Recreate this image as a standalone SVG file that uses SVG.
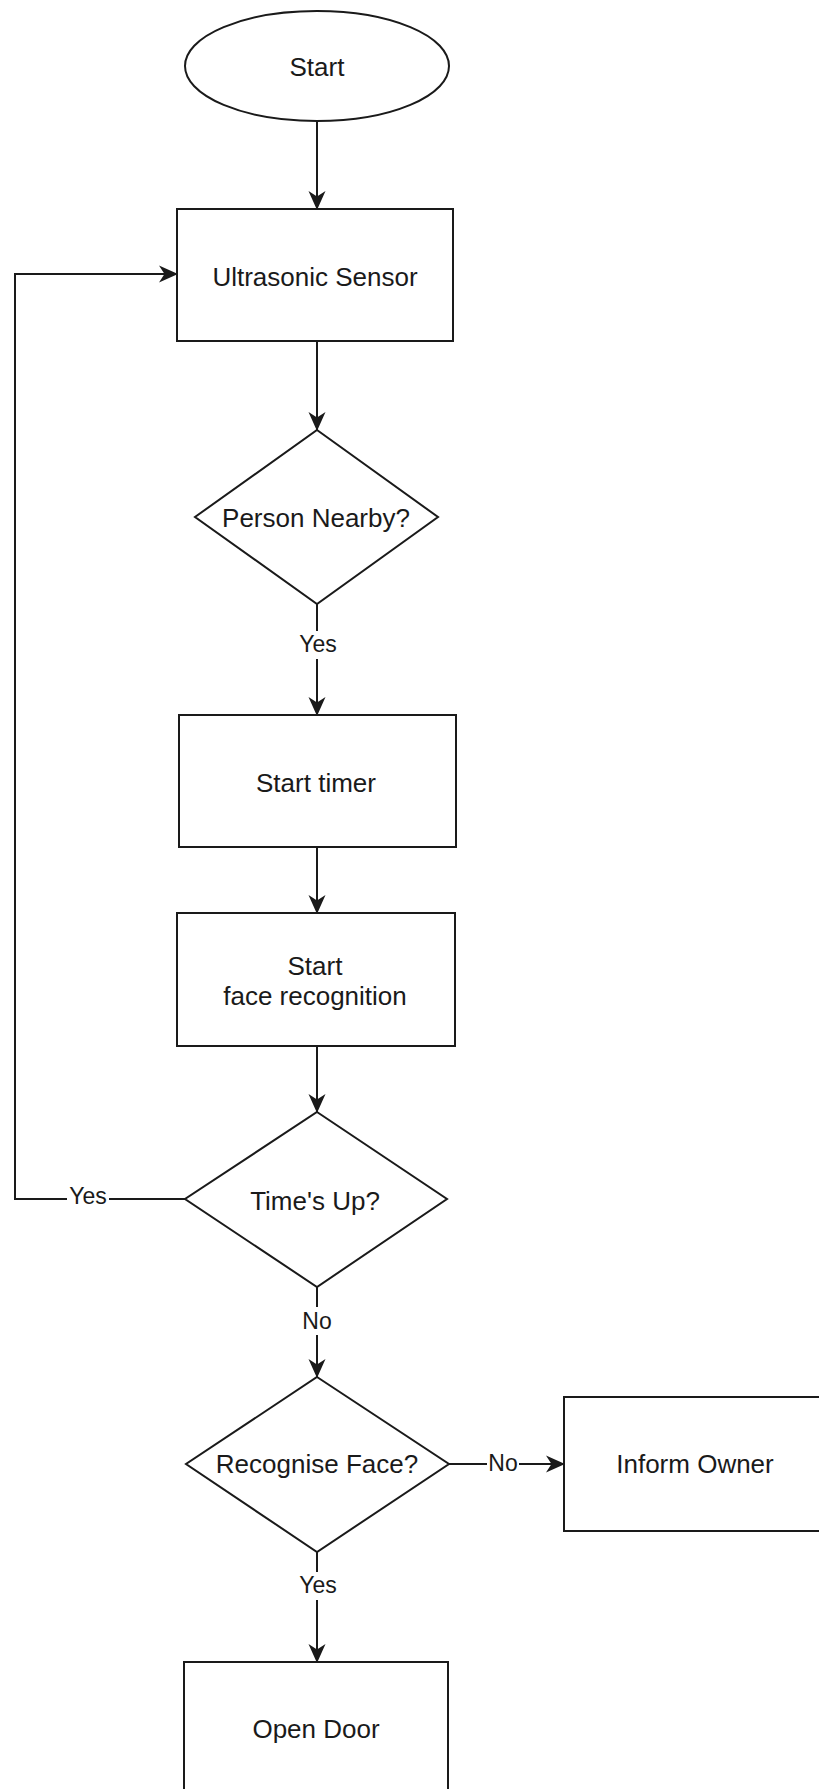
<svg xmlns="http://www.w3.org/2000/svg" width="819" height="1789" viewBox="0 0 819 1789">
<style>
.shape{fill:#ffffff;stroke:#1a1a1a;stroke-width:2}
.edge{fill:none;stroke:#1a1a1a;stroke-width:2}
.t{font-family:"Liberation Sans",Arial,sans-serif;font-size:26px;fill:#1a1a1a;text-anchor:middle}
.lbl{font-family:"Liberation Sans",Arial,sans-serif;font-size:23px;fill:#1a1a1a;text-anchor:middle}
.lbg{fill:#ffffff;stroke:none}
</style>
<defs>
<marker id="arr" viewBox="0 0 19 19" refX="18" refY="9.5" markerWidth="19" markerHeight="19" markerUnits="userSpaceOnUse" orient="auto">
<path d="M0,1 L19,9.5 L0,18 L5.5,9.5 Z" fill="#1a1a1a"/>
</marker>
</defs>
<rect width="819" height="1789" fill="#ffffff"/>
<g id="connectors">
<path class="edge" d="M317,121 L317,209" marker-end="url(#arr)"/>
<path class="edge" d="M317,341 L317,430" marker-end="url(#arr)"/>
<path class="edge" d="M317,604 L317,715" marker-end="url(#arr)"/>
<path class="edge" d="M317,847 L317,913" marker-end="url(#arr)"/>
<path class="edge" d="M317,1046 L317,1112" marker-end="url(#arr)"/>
<path class="edge" d="M185,1199 L15,1199 L15,274 L177,274" marker-end="url(#arr)"/>
<path class="edge" d="M317,1287 L317,1377" marker-end="url(#arr)"/>
<path class="edge" d="M449,1464 L564,1464" marker-end="url(#arr)"/>
<path class="edge" d="M317,1552 L317,1662" marker-end="url(#arr)"/>
<g id="edge-labels">
<rect class="lbg" x="296" y="631" width="42" height="28"/>
<text class="lbl" x="318" y="652">Yes</text>
<rect class="lbg" x="67" y="1186" width="42" height="26"/>
<text class="lbl" x="88" y="1204">Yes</text>
<rect class="lbg" x="301" y="1307" width="32" height="28"/>
<text class="lbl" x="317" y="1329">No</text>
<rect class="lbg" x="487" y="1451" width="32" height="26"/>
<text class="lbl" x="503" y="1471">No</text>
<rect class="lbg" x="296" y="1572" width="42" height="28"/>
<text class="lbl" x="318" y="1593">Yes</text>
</g>
</g>
<g id="start">
<ellipse class="shape" cx="317" cy="66" rx="132" ry="55"/>
<text class="t" x="317" y="76">Start</text>
</g>
<g id="ultrasonic-sensor">
<rect class="shape" x="177" y="209" width="276" height="132"/>
<text class="t" x="315" y="286">Ultrasonic Sensor</text>
</g>
<g id="person-nearby">
<polygon class="shape" points="317,430 438,517 317,604 195,517"/>
<text class="t" x="316" y="527">Person Nearby?</text>
</g>
<g id="start-timer">
<rect class="shape" x="179" y="715" width="277" height="132"/>
<text class="t" x="316" y="792">Start timer</text>
</g>
<g id="start-face-recognition">
<rect class="shape" x="177" y="913" width="278" height="133"/>
<text class="t" x="315" y="975">Start</text>
<text class="t" x="315" y="1005">face recognition</text>
</g>
<g id="times-up">
<polygon class="shape" points="317,1112 447,1199 317,1287 185,1199"/>
<text class="t" x="315" y="1210">Time's Up?</text>
</g>
<g id="recognise-face">
<polygon class="shape" points="317,1377 449,1464 317,1552 186,1464"/>
<text class="t" x="317" y="1473">Recognise Face?</text>
</g>
<g id="inform-owner">
<rect class="shape" x="564" y="1397" width="276" height="134"/>
<text class="t" x="695" y="1473">Inform Owner</text>
</g>
<g id="open-door">
<rect class="shape" x="184" y="1662" width="264" height="140"/>
<text class="t" x="316" y="1738">Open Door</text>
</g>
</svg>
